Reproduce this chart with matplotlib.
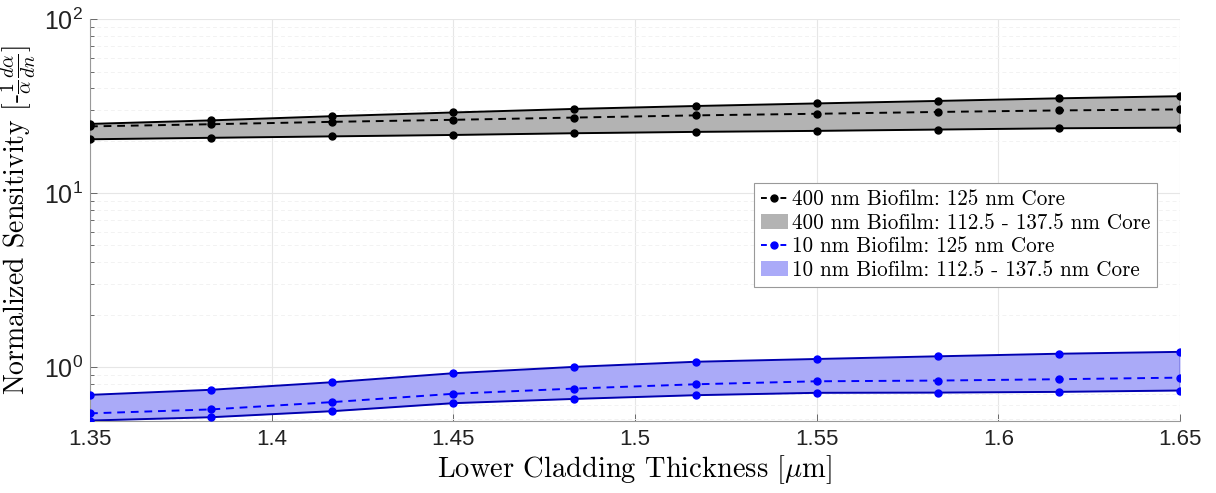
import numpy as np
import matplotlib
matplotlib.use("Agg")
import matplotlib.pyplot as plt
from matplotlib.lines import Line2D
from matplotlib.patches import Patch

# lower cladding thickness [um]
thickness = [1.35, 1.3833, 1.4167, 1.45, 1.4833, 1.5167, 1.55, 1.5833, 1.6167, 1.65]

# 400 nm biofilm
bio400_mid = [24.2, 24.9, 25.7, 26.4, 27.2, 28.0, 28.6, 29.3, 29.9, 30.3]
bio400_hi = [25.0, 26.2, 27.7, 29.1, 30.5, 31.7, 32.8, 33.9, 35.1, 36.1]
bio400_lo = [20.4, 20.8, 21.2, 21.6, 22.1, 22.5, 22.8, 23.2, 23.6, 23.8]

# 10 nm biofilm
bio10_mid = [0.540, 0.569, 0.627, 0.700, 0.750, 0.794, 0.826, 0.834, 0.849, 0.867]
bio10_hi = [0.690, 0.738, 0.816, 0.919, 1.00, 1.07, 1.11, 1.15, 1.19, 1.22]
bio10_lo = [0.491, 0.513, 0.556, 0.618, 0.654, 0.687, 0.709, 0.711, 0.718, 0.731]

xticks = [1.35, 1.4, 1.45, 1.5, 1.55, 1.6, 1.65]
xticklabels = ["1.35", "1.4", "1.45", "1.5", "1.55", "1.6", "1.65"]

legend_labels = ["400 nm Biofilm: 125 nm Core",
                 "400 nm Biofilm: 112.5 - 137.5 nm Core",
                 "10 nm Biofilm: 125 nm Core",
                 "10 nm Biofilm: 112.5 - 137.5 nm Core"]

plt.rcParams["font.family"] = ["Liberation Sans", "DejaVu Sans"]
plt.rcParams["mathtext.fontset"] = "custom"
plt.rcParams["mathtext.rm"] = "Liberation Sans"
plt.rcParams["mathtext.it"] = "Liberation Sans:italic"
plt.rcParams["mathtext.bf"] = "Liberation Sans:bold"

fig = plt.figure(figsize=(12.16, 4.93), dpi=100)
ax = fig.add_axes([90/1216, 1 - 420.7/493, 1090/1216, 401.4/493])

gray_fill = "#b3b3b3"
blue_fill = "#aaaaf8"
blue_edge = "#0000b0"

# shaded core-thickness ranges
ax.fill_between(thickness, bio400_lo, bio400_hi, color=gray_fill, lw=0, zorder=2)
ax.fill_between(thickness, bio10_lo, bio10_hi, color=blue_fill, lw=0, zorder=2)
ax.plot([thickness[-1], thickness[-1]], [bio400_lo[-1], bio400_hi[-1]], color="k", lw=1.0, zorder=3)
ax.plot([thickness[-1], thickness[-1]], [bio10_lo[-1], bio10_hi[-1]], color=blue_edge, lw=1.0, zorder=3)

for ys in (bio400_hi, bio400_lo):
    ax.plot(thickness, ys, "-", color="k", lw=1.4, marker="o", ms=5, zorder=4)
for ys in (bio10_hi, bio10_lo):
    ax.plot(thickness, ys, "-", color=blue_edge, lw=1.4, marker="o", ms=5,
            mfc="#0000ff", mec="#0000ff", zorder=4)

ax.plot(thickness, bio400_mid, "--", color="k", lw=1.4, marker="o", ms=5,
        dashes=(4, 3), zorder=5)
ax.plot(thickness, bio10_mid, "--", color="#0000ff", lw=1.4, marker="o", ms=5,
        dashes=(4, 3), zorder=5)

ax.set_yscale("log")
ax.set_xlim(1.35, 1.65)
ax.set_ylim(0.49, 100)
ax.set_xticks(xticks)
ax.set_xticklabels(xticklabels)
ax.tick_params(axis="x", which="major", labelsize=16, pad=6)
ax.tick_params(axis="y", which="major", labelsize=18, pad=5)
ax.tick_params(axis="both", which="major", length=5, width=0.6,
               color="#555555", labelcolor="#222222", direction="in")
ax.tick_params(axis="y", which="minor", length=3, width=0.6, color="#555555", direction="in")
ax.tick_params(top=False, right=False)

ax.grid(True, which="major", color="#e6e6e6", lw=0.8, zorder=0)
ax.grid(True, which="minor", axis="y", color="#f2f2f2", lw=0.7, ls=(0, (4, 3)), zorder=0)
ax.set_axisbelow(True)

for side in ("top", "right"):
    ax.spines[side].set_visible(False)
for side in ("left", "bottom"):
    ax.spines[side].set_color("#999999")
    ax.spines[side].set_linewidth(0.8)

ax.set_xlabel(r"Lower Cladding Thickness [$\mu$m]", fontsize=20.5, family="cmr10",
              math_fontfamily="cm", labelpad=2)
ax.set_ylabel(r"Normalized Sensitivity [-$\frac{1}{\alpha}\frac{d\alpha}{dn}$]", fontsize=20,
              family="cmr10", math_fontfamily="cm", labelpad=4)

handles = [
    Line2D([], [], color="k", ls="--", marker="o", ms=5, lw=1.4, dashes=(3, 2)),
    Patch(facecolor=gray_fill, edgecolor="none"),
    Line2D([], [], color="#0000ff", ls="--", marker="o", ms=5, lw=1.4, dashes=(3, 2)),
    Patch(facecolor=blue_fill, edgecolor="none"),
]
leg = ax.legend(handles, legend_labels, loc="upper right", bbox_to_anchor=(0.979, 0.592),
                prop={"family": "cmr10", "size": 15.2}, fancybox=False, framealpha=1,
                edgecolor="#999999", handlelength=1.3, handletextpad=0.2,
                borderpad=0.3, labelspacing=0.2, borderaxespad=0)
leg.get_frame().set_linewidth(0.8)
leg.set_zorder(10)

fig.savefig("out.png", dpi=100)
